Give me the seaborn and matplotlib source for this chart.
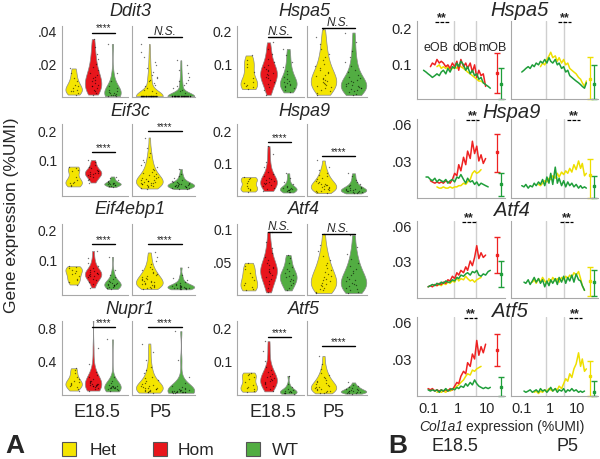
import numpy as np
import pandas as pd
import matplotlib
matplotlib.use("Agg")
import matplotlib.pyplot as plt
from matplotlib.patches import Rectangle
import seaborn as sns

W, H = 600, 460
COLORS = {"Het": "#f4e500", "Hom": "#e8161c", "WT": "#52ad42"}
LINE_COLORS = {"Het": "#eedf00", "Hom": "#ee2222", "WT": "#1f9e3a"}

# ---------------- panel A: per-cell expression (%UMI) ----------------
DDIT3_E18 = {
    "Het": [0.001, 0.002, 0.003, 0.003, 0.004, 0.005, 0.006, 0.007, 0.009, 0.011, 0.014, 0.017],
    "Hom": [0.001, 0.002, 0.003, 0.004, 0.005, 0.006, 0.006, 0.007, 0.008, 0.009, 0.010, 0.011,
            0.012, 0.013, 0.014, 0.016, 0.018, 0.020, 0.023, 0.026, 0.030, 0.035],
    "WT": [0.0, 0.0, 0.0005, 0.001, 0.001, 0.0015, 0.002, 0.002, 0.0025, 0.003, 0.004, 0.005,
           0.006, 0.009, 0.014, 0.032],
}
DDIT3_P5 = {
    "Het": [0.0] * 40 + [0.002, 0.003, 0.004, 0.005, 0.006, 0.007, 0.008, 0.009, 0.010, 0.011,
                         0.012, 0.013, 0.015, 0.017, 0.019, 0.021, 0.024, 0.027, 0.032],
    "WT": [0.0] * 40 + [0.002, 0.003, 0.004, 0.005, 0.006, 0.007, 0.008, 0.009, 0.010, 0.012,
                        0.014, 0.016, 0.019, 0.022],
}
EIF3C_E18 = {
    "Het": [0.012, 0.018, 0.022, 0.025, 0.028, 0.032, 0.045, 0.062, 0.068, 0.072, 0.078],
    "Hom": [0.025, 0.032, 0.038, 0.042, 0.046, 0.049, 0.052, 0.054, 0.056, 0.058, 0.06, 0.062,
            0.065, 0.068, 0.072, 0.078, 0.085, 0.093, 0.1],
    "WT": [0.01, 0.013, 0.015, 0.017, 0.018, 0.019, 0.02, 0.021, 0.022, 0.023, 0.025, 0.027,
           0.03, 0.034, 0.04, 0.045],
}
EIF3C_P5 = {
    "Het": [0.005, 0.008, 0.01, 0.012, 0.014, 0.016, 0.018, 0.02, 0.021, 0.022, 0.024, 0.025,
            0.027, 0.028, 0.03, 0.031, 0.033, 0.035, 0.037, 0.039, 0.041, 0.044, 0.047, 0.05,
            0.053, 0.057, 0.061, 0.066, 0.071, 0.077, 0.084, 0.092, 0.1, 0.11, 0.125, 0.14, 0.175],
    "WT": [0.003, 0.005, 0.007, 0.008, 0.009, 0.01, 0.011, 0.012, 0.013, 0.014, 0.015, 0.016,
           0.017, 0.018, 0.019, 0.02, 0.021, 0.022, 0.024, 0.026, 0.028, 0.031, 0.035, 0.04,
           0.047, 0.055, 0.07],
}
EIF4EBP1_E18 = {
    "Het": [0.018, 0.025, 0.032, 0.038, 0.045, 0.052, 0.058, 0.063, 0.068, 0.072, 0.076, 0.079],
    "Hom": [0.008, 0.02, 0.028, 0.034, 0.038, 0.042, 0.045, 0.048, 0.05, 0.052, 0.054, 0.056,
            0.058, 0.061, 0.064, 0.068, 0.073, 0.08, 0.09, 0.105, 0.13],
    "WT": [0.003, 0.006, 0.009, 0.011, 0.013, 0.015, 0.016, 0.017, 0.018, 0.019, 0.02, 0.022,
           0.024, 0.027, 0.031, 0.036, 0.042, 0.05, 0.065, 0.11],
}
EIF4EBP1_P5 = {
    "Het": [0.003, 0.005, 0.007, 0.009, 0.011, 0.013, 0.015, 0.017, 0.019, 0.021, 0.023, 0.025,
            0.027, 0.029, 0.031, 0.033, 0.035, 0.038, 0.04, 0.043, 0.046, 0.049, 0.052, 0.056,
            0.06, 0.065, 0.07, 0.077, 0.085, 0.095, 0.11, 0.125],
    "WT": [0.002, 0.003, 0.004, 0.005, 0.006, 0.006, 0.007, 0.008, 0.008, 0.009, 0.01, 0.011,
           0.012, 0.013, 0.014, 0.015, 0.017, 0.019, 0.022, 0.026, 0.032, 0.04, 0.05, 0.075],
}
NUPR1_E18 = {
    "Het": [0.03, 0.05, 0.07, 0.09, 0.1, 0.11, 0.12, 0.13, 0.15, 0.17, 0.2, 0.24, 0.28, 0.3],
    "Hom": [0.03, 0.05, 0.06, 0.07, 0.08, 0.085, 0.09, 0.095, 0.1, 0.1, 0.105, 0.11, 0.115,
            0.12, 0.13, 0.14, 0.15, 0.17, 0.19, 0.22, 0.26, 0.35, 0.55, 0.95],
    "WT": [0.02, 0.035, 0.045, 0.05, 0.055, 0.06, 0.062, 0.065, 0.068, 0.07, 0.075, 0.08,
           0.085, 0.09, 0.1, 0.12, 0.15, 0.2, 0.65],
}
NUPR1_P5 = {
    "Het": [0.005, 0.01, 0.015, 0.02, 0.025, 0.03, 0.035, 0.04, 0.045, 0.05, 0.055, 0.06, 0.065,
            0.07, 0.08, 0.09, 0.1, 0.11, 0.12, 0.14, 0.16, 0.18, 0.2, 0.24, 0.28, 0.32, 0.4,
            0.5, 0.6],
    "WT": [0.003, 0.005, 0.007, 0.009, 0.01, 0.012, 0.014, 0.016, 0.018, 0.02, 0.022, 0.025,
           0.028, 0.031, 0.035, 0.04, 0.045, 0.05, 0.06, 0.07, 0.09, 0.12, 0.2, 0.4, 0.75],
}
HSPA5_E18 = {
    "Het": [0.022, 0.028, 0.033, 0.036, 0.04, 0.045, 0.055, 0.075, 0.09, 0.1, 0.11, 0.125],
    "Hom": [0.005, 0.02, 0.03, 0.038, 0.045, 0.05, 0.055, 0.06, 0.064, 0.068, 0.072, 0.076,
            0.08, 0.085, 0.09, 0.097, 0.105, 0.115, 0.13, 0.145, 0.165],
    "WT": [0.012, 0.02, 0.025, 0.029, 0.032, 0.035, 0.038, 0.041, 0.044, 0.048, 0.053, 0.06,
           0.068, 0.078, 0.09, 0.105, 0.125, 0.145],
}
HSPA5_P5 = {
    "Het": [0.005, 0.01, 0.015, 0.02, 0.024, 0.028, 0.032, 0.035, 0.038, 0.041, 0.044, 0.047,
            0.05, 0.053, 0.057, 0.061, 0.065, 0.07, 0.075, 0.08, 0.086, 0.093, 0.1, 0.11, 0.12,
            0.13, 0.145, 0.16, 0.18, 0.205],
    "WT": [0.004, 0.008, 0.012, 0.016, 0.019, 0.022, 0.025, 0.027, 0.029, 0.031, 0.033, 0.035,
           0.037, 0.04, 0.043, 0.046, 0.05, 0.055, 0.06, 0.066, 0.073, 0.082, 0.093, 0.105,
           0.12, 0.14, 0.165, 0.195],
}
HSPA9_E18 = {
    "Het": [0.008, 0.012, 0.016, 0.02, 0.025, 0.035, 0.042, 0.047, 0.05, 0.053],
    "Hom": [0.01, 0.015, 0.02, 0.024, 0.028, 0.031, 0.034, 0.036, 0.038, 0.04, 0.043, 0.046,
            0.05, 0.055, 0.062, 0.07, 0.085, 0.1, 0.125, 0.15],
    "WT": [0.005, 0.008, 0.01, 0.012, 0.013, 0.014, 0.015, 0.016, 0.018, 0.02, 0.022, 0.025,
           0.03, 0.038, 0.05, 0.065],
}
HSPA9_P5 = {
    "Het": [0.003, 0.006, 0.009, 0.011, 0.013, 0.015, 0.017, 0.019, 0.021, 0.023, 0.025, 0.027,
            0.029, 0.031, 0.033, 0.036, 0.039, 0.042, 0.046, 0.05, 0.055, 0.06, 0.067, 0.075,
            0.085, 0.105],
    "WT": [0.002, 0.004, 0.006, 0.007, 0.008, 0.009, 0.01, 0.011, 0.012, 0.013, 0.014, 0.015,
           0.016, 0.018, 0.02, 0.022, 0.025, 0.028, 0.032, 0.038, 0.045, 0.055, 0.065],
}
ATF4_E18 = {
    "Het": [0.006, 0.008, 0.011, 0.014, 0.018, 0.022, 0.027, 0.032, 0.038, 0.043, 0.048],
    "Hom": [0.003, 0.01, 0.015, 0.02, 0.024, 0.027, 0.03, 0.032, 0.034, 0.036, 0.038, 0.04,
            0.042, 0.045, 0.048, 0.052, 0.057, 0.063, 0.07, 0.08, 0.095],
    "WT": [0.006, 0.01, 0.014, 0.017, 0.02, 0.022, 0.024, 0.026, 0.028, 0.03, 0.032, 0.035,
           0.038, 0.042, 0.048, 0.055, 0.06],
}
ATF4_P5 = {
    "Het": [0.002, 0.004, 0.006, 0.008, 0.01, 0.012, 0.014, 0.016, 0.018, 0.02, 0.022, 0.024,
            0.026, 0.028, 0.031, 0.034, 0.037, 0.04, 0.044, 0.048, 0.053, 0.059, 0.066, 0.075,
            0.092],
    "WT": [0.002, 0.004, 0.006, 0.008, 0.01, 0.012, 0.014, 0.016, 0.018, 0.02, 0.022, 0.024,
           0.026, 0.029, 0.032, 0.035, 0.039, 0.043, 0.048, 0.054, 0.062, 0.072, 0.09],
}
ATF5_E18 = {
    "Het": [0.007, 0.01, 0.014, 0.018, 0.022, 0.028, 0.036, 0.045, 0.052, 0.058, 0.062, 0.065],
    "Hom": [0.008, 0.015, 0.02, 0.025, 0.029, 0.033, 0.036, 0.039, 0.042, 0.045, 0.048, 0.051,
            0.055, 0.06, 0.066, 0.073, 0.082, 0.1, 0.13, 0.16],
    "WT": [0.001, 0.002, 0.003, 0.004, 0.005, 0.006, 0.007, 0.008, 0.01, 0.012, 0.015, 0.02,
           0.03, 0.055],
}
ATF5_P5 = {
    "Het": [0.002, 0.004, 0.006, 0.008, 0.01, 0.012, 0.014, 0.016, 0.018, 0.02, 0.022, 0.024,
            0.026, 0.029, 0.032, 0.035, 0.038, 0.042, 0.047, 0.052, 0.058, 0.065, 0.075, 0.09,
            0.115],
    "WT": [0.001, 0.002, 0.003, 0.004, 0.005, 0.006, 0.007, 0.008, 0.009, 0.01, 0.011, 0.012,
           0.014, 0.016, 0.018, 0.02, 0.023, 0.027, 0.035],
}

# axis limits, ticks and significance per gene (panel A)
A_YLIM = {"Ddit3": (-0.0005, 0.043), "Eif3c": (-0.02, 0.22), "Eif4ebp1": (-0.017, 0.22),
          "Nupr1": (-0.024, 0.873), "Hspa5": (-0.002, 0.215), "Hspa9": (-0.006, 0.219),
          "Atf4": (-0.001, 0.107), "Atf5": (-0.003, 0.221)}
A_TICKS = {"Ddit3": ([0.02, 0.04], [".02", ".04"]), "Eif3c": ([0.1, 0.2], ["0.1", "0.2"]),
           "Eif4ebp1": ([0.1, 0.2], ["0.1", "0.2"]), "Nupr1": ([0.4, 0.8], ["0.4", "0.8"]),
           "Hspa5": ([0.1, 0.2], ["0.1", "0.2"]), "Hspa9": ([0.1, 0.2], ["0.1", "0.2"]),
           "Atf4": ([0.05, 0.1], [".05", "0.1"]), "Atf5": ([0.1, 0.2], ["0.1", "0.2"])}
A_SIG_E18 = {"Ddit3": ("****", 0.039), "Eif3c": ("****", 0.127), "Eif4ebp1": ("****", 0.153),
             "Nupr1": ("****", 0.8), "Hspa5": ("N.S.", 0.18), "Hspa9": ("****", 0.163),
             "Atf4": ("N.S.", 0.095), "Atf5": ("****", 0.173)}
A_SIG_P5 = {"Ddit3": ("N.S.", 0.036), "Eif3c": ("****", 0.197), "Eif4ebp1": ("****", 0.153),
            "Nupr1": ("****", 0.8), "Hspa5": ("N.S.", 0.21), "Hspa9": ("****", 0.119),
            "Atf4": ("N.S.", 0.092), "Atf5": ("****", 0.145)}

# ---------------- panel B: expression vs Col1a1 ----------------
COL1A1_E18 = [0.07, 0.085, 0.1, 0.12, 0.14, 0.17, 0.2, 0.24, 0.28, 0.33, 0.4, 0.47, 0.56, 0.67,
              0.8, 0.95, 1.1, 1.3, 1.6, 1.9, 2.2, 2.7, 3.2, 3.8, 4.5, 5.3, 6.3, 7.5, 9, 11, 13, 15]
COL1A1_P5 = [0.1, 0.12, 0.14, 0.17, 0.2, 0.24, 0.28, 0.33, 0.4, 0.47, 0.56, 0.67, 0.8, 0.95,
             1.1, 1.3, 1.6, 1.9, 2.2, 2.7, 3.2, 3.8, 4.5, 5.3, 6.3, 7.5, 9, 11, 13, 15, 18, 21]

HSPA5_E18_TRACE = {
    "Het": [None] * 6 + [0.09, 0.095, 0.085, 0.09, 0.085, 0.09, 0.08, 0.085, 0.09, 0.085,
                         0.095, 0.09, 0.085, 0.08, 0.075, 0.07, 0.065, 0.06, 0.055, 0.05,
                         0.05, 0.045] + [None] * 4,
    "Hom": [None] * 3 + [0.09, 0.10, 0.095, 0.11, 0.10, 0.105, 0.10, 0.09, 0.095, 0.085,
                         0.10, 0.09, 0.105, 0.08, 0.11, 0.09, 0.10, 0.085, 0.10, 0.075,
                         0.095, 0.06, 0.08, 0.065, 0.07, 0.035] + [None] * 3,
    "WT": [0.08, 0.075, 0.07, 0.065, 0.06, 0.065, 0.07, 0.065, 0.075, 0.08,
           0.07, 0.085, 0.075, 0.09, 0.085, 0.1, 0.09, 0.105, 0.095, 0.08,
           0.09, 0.07, 0.08, 0.065, 0.07, 0.055, 0.06, 0.045, 0.04, 0.035, 0.03, None],
}
HSPA5_P5_TRACE = {
    "Het": [None] * 9 + [0.09, 0.1, 0.095, 0.11, 0.12, 0.13, 0.115, 0.12, 0.105, 0.115,
                         0.1, 0.11, 0.095, 0.1, 0.085, 0.08, 0.075, 0.07, 0.06, 0.055,
                         0.045, 0.035, 0.05],
    "WT": [0.075, 0.08, 0.085, 0.09, 0.085, 0.095, 0.09, 0.1, 0.095, 0.105,
           0.1, 0.11, 0.1, 0.115, 0.105, 0.1, 0.11, 0.095, 0.1, 0.085,
           0.09, 0.075, 0.08, 0.065, 0.06, 0.055, 0.05, 0.045, 0.04, 0.035, 0.03, 0.045],
}
HSPA9_E18_TRACE = {
    "Het": [None] * 6 + [0.009, 0.008, 0.008, 0.009, 0.008, 0.008, 0.009, 0.008, 0.009, 0.009,
                         0.01, 0.01, 0.012, 0.011, 0.013, 0.015, 0.02, 0.022, 0.02, 0.021,
                         0.023] + [None] * 5,
    "Hom": [None] * 3 + [0.014, 0.013, 0.012, 0.013, 0.012, 0.013, 0.012, 0.014, 0.013, 0.012,
                         0.015, 0.02, 0.018, 0.027, 0.022, 0.033, 0.027, 0.038, 0.032, 0.046,
                         0.036, 0.042, 0.03, 0.035, 0.028, 0.032] + [None] * 3,
    "WT": [None] + [0.017, 0.017, 0.015, 0.014, 0.016, 0.013, 0.015, 0.014, 0.013, 0.015,
                    0.012, 0.014, 0.015, 0.013, 0.017, 0.016, 0.019, 0.015, 0.012, 0.016,
                    0.013, 0.014, 0.011, 0.013, 0.01, 0.012, 0.011, 0.01, 0.009] + [None] * 2,
}
HSPA9_P5_TRACE = {
    "Het": [None] * 8 + [0.011, 0.01, 0.012, 0.014, 0.013, 0.016, 0.015, 0.018, 0.016, 0.02,
                         0.017, 0.021, 0.019, 0.022, 0.02, 0.024, 0.021, 0.027, 0.023, 0.03,
                         0.024, 0.028, 0.018, 0.02],
    "WT": [0.01, 0.009, 0.011, 0.008, 0.01, 0.009, 0.012, 0.01, 0.013, 0.011,
           0.015, 0.01, 0.017, 0.012, 0.02, 0.011, 0.025, 0.012, 0.016, 0.01,
           0.014, 0.009, 0.013, 0.01, 0.012, 0.009, 0.011, 0.008, 0.01, 0.008, 0.009, 0.008],
}
ATF4_E18_TRACE = {
    "Het": [None] * 6 + [0.009, 0.01, 0.009, 0.011, 0.01, 0.012, 0.011, 0.013, 0.012, 0.016,
                         0.013, 0.015, 0.014, 0.017, 0.015, 0.013, 0.014, 0.012, 0.014, 0.015,
                         0.016] + [None] * 5,
    "Hom": [None] * 2 + [0.008, 0.009, 0.008, 0.01, 0.009, 0.011, 0.01, 0.012, 0.011, 0.014,
                         0.013, 0.017, 0.015, 0.02, 0.018, 0.022, 0.02, 0.025, 0.022, 0.03,
                         0.026, 0.033, 0.043, 0.032, 0.037, 0.033, 0.035] + [None] * 3,
    "WT": [None] * 2 + [0.008, 0.009, 0.01, 0.009, 0.011, 0.01, 0.012, 0.011, 0.013, 0.012,
                        0.012, 0.014, 0.013, 0.016, 0.015, 0.018, 0.017, 0.019, 0.02, 0.018,
                        0.021, 0.02, 0.022, 0.018, 0.017, 0.019, 0.018, 0.021, 0.022] + [None],
}
ATF4_P5_TRACE = {
    "Het": [None] * 5 + [0.012, 0.014, 0.011, 0.015, 0.012, 0.016, 0.013, 0.011, 0.015, 0.012,
                         0.016, 0.013, 0.015, 0.012, 0.016, 0.014, 0.017, 0.015, 0.018, 0.016,
                         0.02, 0.018, 0.021, 0.015, 0.009, 0.005] + [None],
    "WT": [None] + [0.012, 0.011, 0.014, 0.01, 0.013, 0.016, 0.012, 0.015, 0.011, 0.014,
                    0.008, 0.013, 0.009, 0.014, 0.011, 0.015, 0.01, 0.016, 0.012, 0.017,
                    0.011, 0.016, 0.013, 0.018, 0.012, 0.019, 0.014, 0.013, 0.009, 0.005] + [None],
}
ATF5_E18_TRACE = {
    "Het": [None] * 6 + [0.003, 0.004, 0.003, 0.004, 0.003, 0.005, 0.004, 0.005, 0.006, 0.008,
                         0.009, 0.011, 0.013, 0.016, 0.018, 0.017, 0.021, 0.02, 0.022, 0.023,
                         0.024] + [None] * 5,
    "Hom": [None] * 2 + [0.006, 0.005, 0.006, 0.004, 0.005, 0.004, 0.005, 0.004, 0.005, 0.004,
                         0.006, 0.005, 0.008, 0.011, 0.01, 0.016, 0.02, 0.018, 0.027, 0.024,
                         0.034, 0.03, 0.045, 0.033, 0.04, 0.035, 0.042] + [None] * 3,
    "WT": [None] * 2 + [0.005, 0.004, 0.005, 0.004, 0.005, 0.003, 0.005, 0.004, 0.006, 0.004,
                        0.005, 0.006, 0.005, 0.007, 0.006, 0.008, 0.007, 0.01, 0.008, 0.011,
                        0.009, 0.013, 0.01, 0.008, 0.007, 0.006, 0.007, 0.006, 0.007] + [None],
}
ATF5_P5_TRACE = {
    "Het": [None] * 6 + [0.003, 0.004, 0.002, 0.004, 0.003, 0.005, 0.004, 0.006, 0.005, 0.004,
                         0.006, 0.005, 0.008, 0.006, 0.01, 0.014, 0.012, 0.018, 0.015, 0.022,
                         0.026, 0.035, 0.024, 0.03, 0.02, 0.022],
    "WT": [None] + [0.004, 0.003, 0.004, 0.005, 0.003, 0.004, 0.005, 0.003, 0.006, 0.004,
                    0.005, 0.003, 0.005, 0.007, 0.004, 0.006, 0.003, 0.005, 0.004, 0.006,
                    0.003, 0.005, 0.004, 0.006, 0.004, 0.005, 0.003, 0.004, 0.003, 0.004] + [None],
}

# mean, low, high of the summary error bars
ERR_E18 = {"Hspa5": {"Hom": (0.072, 0.017, 0.128), "WT": (0.042, 0.0, 0.086)},
           "Hspa9": {"Hom": (0.037, 0.021, 0.052), "WT": (0.011, 0.002, 0.020)},
           "Atf4": {"Hom": (0.035, 0.020, 0.050), "WT": (0.019, 0.008, 0.030)},
           "Atf5": {"Hom": (0.037, 0.024, 0.050), "WT": (0.007, 0.0, 0.015)}}
ERR_P5 = {"Hspa5": {"Het": (0.056, 0.0, 0.117), "WT": (0.042, 0.0, 0.094)},
          "Hspa9": {"Het": (0.019, 0.0, 0.032), "WT": (0.010, 0.0, 0.018)},
          "Atf4": {"Het": (0.013, 0.0, 0.025), "WT": (0.012, 0.0, 0.022)},
          "Atf5": {"Het": (0.016, 0.0, 0.028), "WT": (0.003, 0.0, 0.012)}}
B_STARS_E18 = {"Hspa5": 0.3, "Hspa9": 3.2, "Atf4": 2.5, "Atf5": 2.8}
B_STARS_P5 = {"Hspa5": 3.4, "Hspa9": 7.3, "Atf4": 4.1, "Atf5": 8.4}
OB_BORDERS_E18 = [0.73, 4.1]
OB_BORDERS_P5 = [0.72, 3.4]

sns.set_theme(style="white")
plt.rcParams["font.family"] = ["Liberation Sans", "DejaVu Sans"]

fig = plt.figure(figsize=(6, 4.6), dpi=100)


def px_axes(x0, x1, y0, y1):
    return fig.add_axes([x0 / W, 1 - y1 / H, (x1 - x0) / W, (y1 - y0) / H])


def tidy(ax):
    sns.despine(ax=ax)
    for s in ("left", "bottom"):
        ax.spines[s].set_color("#a8a8a8")
        ax.spines[s].set_linewidth(0.8)
    ax.tick_params(length=2, width=0.6, color="#a8a8a8", labelsize=10, pad=1.5)
    ax.set_xlabel("")
    ax.set_ylabel("")


def sig_mark(ax, x1, x2, y, label):
    ax.plot([x1, x2], [y, y], color="black", lw=1.0, clip_on=False)
    if label == "N.S.":
        ax.text((x1 + x2) / 2, y, label, ha="center", va="bottom", fontsize=8.5,
                fontstyle="italic", clip_on=False)
    else:
        ax.text((x1 + x2) / 2, y, label, ha="center", va="bottom", fontsize=7, clip_on=False)


def violins(ax, groups, order):
    df = pd.DataFrame([(g, v) for g in order for v in groups[g]], columns=["genotype", "value"])
    sns.violinplot(data=df, x="genotype", y="value", hue="genotype", order=order,
                   hue_order=order, palette=COLORS, saturation=1, cut=0, density_norm="width",
                   inner=None, width=0.85, linewidth=0.5, linecolor="#8a8a8a", bw_adjust=0.9,
                   legend=False, ax=ax)
    sns.stripplot(data=df, x="genotype", y="value", order=order, color="black", size=1.0,
                  jitter=0.28, alpha=0.55, ax=ax, zorder=3)


# ---------------- panel A ----------------
A_COLUMNS = [
    ((62, 128, 132, 195), 130, [("Ddit3", DDIT3_E18, DDIT3_P5), ("Eif3c", EIF3C_E18, EIF3C_P5),
                               ("Eif4ebp1", EIF4EBP1_E18, EIF4EBP1_P5), ("Nupr1", NUPR1_E18, NUPR1_P5)]),
    ((237, 304, 307, 367), 304, [("Hspa5", HSPA5_E18, HSPA5_P5), ("Hspa9", HSPA9_E18, HSPA9_P5),
                                ("Atf4", ATF4_E18, ATF4_P5), ("Atf5", ATF5_E18, ATF5_P5)]),
]
A_ROWS = [(27, 98), (125, 197), (225, 296), (322, 396)]
A_TITLE_Y = [12, 112, 210, 310]

for (ex0, ex1, px0, px1), title_x, genes in A_COLUMNS:
    for r, (gene, e18, p5) in enumerate(genes):
        y0, y1 = A_ROWS[r]
        ax_e = px_axes(ex0, ex1, y0, y1)
        ax_p = px_axes(px0, px1, y0, y1)
        violins(ax_e, e18, ["Het", "Hom", "WT"])
        violins(ax_p, p5, ["Het", "WT"])
        ticks, labels = A_TICKS[gene]
        for ax in (ax_e, ax_p):
            tidy(ax)
            ax.set_ylim(*A_YLIM[gene])
            ax.set_yticks(ticks)
            ax.set_xticklabels([])
        ax_e.set_yticklabels(labels)
        ax_p.set_yticklabels([])
        ax_p.tick_params(axis="y", length=0)
        ax_e.set_xlim(-0.6, 2.8)
        ax_p.set_xlim(-0.55, 1.45)
        lab, yv = A_SIG_E18[gene]
        sig_mark(ax_e, 0.95, 2.15, yv, lab)
        lab, yv = A_SIG_P5[gene]
        sig_mark(ax_p, -0.05, 1.05, yv, lab)
        fig.text(title_x / W, 1 - A_TITLE_Y[r] / H, gene, ha="center", va="center",
                 fontsize=13, fontstyle="italic")
    fig.text(((ex0 + ex1) / 2 + 2) / W, 1 - 413 / H, "E18.5", ha="center", va="center", fontsize=13)
    fig.text(((px0 + px1) / 2 - 3) / W, 1 - 413 / H, "P5", ha="center", va="center", fontsize=13)

fig.text(12 / W, 1 - 215 / H, "Gene expression (%UMI)", rotation=90, ha="center",
         va="center", fontsize=12.5)

# ---------------- panel B ----------------
B_GENES = [("Hspa5", HSPA5_E18_TRACE, HSPA5_P5_TRACE, (0, 0.217), [0.1, 0.2], ["0.1", "0.2"]),
           ("Hspa9", HSPA9_E18_TRACE, HSPA9_P5_TRACE, (0, 0.064), [0.03, 0.06], [".03", ".06"]),
           ("Atf4", ATF4_E18_TRACE, ATF4_P5_TRACE, (-0.0015, 0.064), [0.03, 0.06], [".03", ".06"]),
           ("Atf5", ATF5_E18_TRACE, ATF5_P5_TRACE, (0, 0.064), [0.03, 0.06], [".03", ".06"])]
B_ROWS = [(22, 100), (120, 199), (222, 299), (318, 397)]
B_TITLE = [(520, 10), (512, 112), (512, 210), (510, 312)]

for r, (gene, tr_e, tr_p, ylim, ticks, labels) in enumerate(B_GENES):
    y0, y1 = B_ROWS[r]
    ax_e = px_axes(417, 505, y0, y1)
    ax_p = px_axes(511, 598, y0, y1)
    panels = [(ax_e, COL1A1_E18, tr_e, ERR_E18[gene], {"Hom": 22, "WT": 30}, OB_BORDERS_E18,
               B_STARS_E18[gene], (0.042, 41)),
              (ax_p, COL1A1_P5, tr_p, ERR_P5[gene], {"Het": 28, "WT": 40}, OB_BORDERS_P5,
               B_STARS_P5[gene], (0.041, 55))]
    for ax, xs, traces, errs, err_x, borders, star_x, xlim in panels:
        for b in borders:
            ax.axvline(b, color="#cfcfcf", lw=1.0, zorder=0)
        for g, vals in traces.items():
            sns.lineplot(x=xs, y=np.array(vals, dtype=float), color=LINE_COLORS[g], lw=1.1,
                         ax=ax, zorder=2)
        for g, (m, lo, hi) in errs.items():
            ax.errorbar(err_x[g], m, yerr=[[m - lo], [hi - m]], color=LINE_COLORS[g],
                        capsize=2, lw=0.9, marker="s", ms=2, clip_on=False)
        ax.set_xscale("log")
        ax.set_xlim(*xlim)
        ax.set_ylim(*ylim)
        ax.minorticks_off()
        ax.set_xticks([0.1, 1, 10])
        ax.set_yticks(ticks)
        tidy(ax)
        ax.tick_params(labelsize=10.5)
        top = ylim[1]
        ax.plot([star_x / 1.7, star_x * 1.7], [top * 0.985, top * 0.985], color="black",
                lw=0.9, ls=(0, (3, 1)), clip_on=False)
        ax.text(star_x, top * 0.975, "**", ha="center", va="bottom", fontsize=9,
                fontweight="bold", clip_on=False)
        if r == 3:
            ax.set_xticklabels(["0.1", "1", "10"])
        else:
            ax.set_xticklabels([])
    ax_e.set_yticklabels(labels)
    ax_p.set_yticklabels([])
    if gene == "Hspa5":
        for x, t in zip([0.19, 1.85, 15.5], ["eOB", "dOB", "mOB"]):
            ax_e.text(x, 0.145, t, ha="center", va="center", fontsize=9)
    tx, ty = B_TITLE[r]
    fig.text(tx / W, 1 - ty / H, gene, ha="center", va="center", fontsize=14.5,
             fontstyle="italic")

fig.text(463 / W, 1 - 427 / H, "Col1a1", ha="right", va="center", fontsize=10,
         fontstyle="italic")
fig.text(466 / W, 1 - 427 / H, "expression (%UMI)", ha="left", va="center", fontsize=10)

# ---------------- legend and panel letters ----------------
fig.text(15 / W, 1 - 446 / H, "A", ha="center", va="center", fontsize=19, fontweight="bold")
fig.text(398 / W, 1 - 446 / H, "B", ha="center", va="center", fontsize=19, fontweight="bold")
fig.text(455 / W, 1 - 447 / H, "E18.5", ha="center", va="center", fontsize=13)
fig.text(567 / W, 1 - 447 / H, "P5", ha="center", va="center", fontsize=13)
for g, cx, tx in [("Het", 69, 90), ("Hom", 160, 178), ("WT", 253, 272)]:
    fig.add_artist(Rectangle(((cx - 7) / W, 1 - 457 / H), 14 / W, 14 / H,
                             transform=fig.transFigure, facecolor=COLORS[g],
                             edgecolor="#555555", lw=0.8))
    fig.text(tx / W, 1 - 451 / H, g, ha="left", va="center", fontsize=12.5)

fig.savefig("out.png", dpi=100)
